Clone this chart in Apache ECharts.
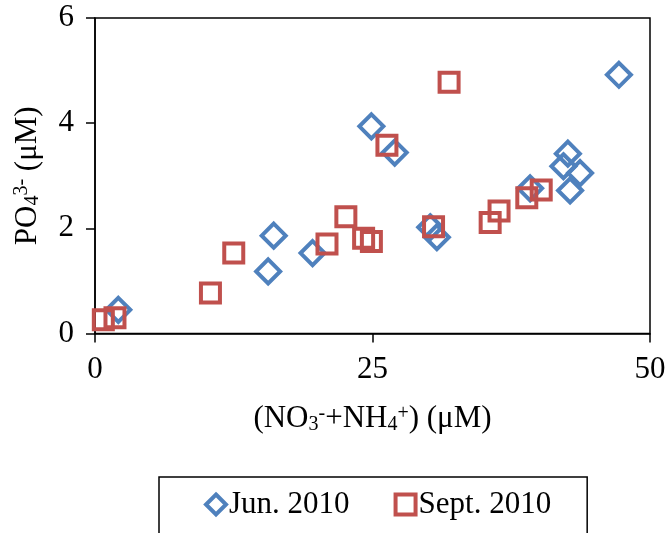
<!DOCTYPE html>
<html><head><meta charset="utf-8">
<script src="https://cdn.jsdelivr.net/npm/echarts@6/dist/echarts.min.js"></script>
<style>html,body{margin:0;padding:0;background:#fff}#c{width:670px;height:533px}</style>
</head><body><div id="c"></div>
<script>
const seriesNames = ['Jun. 2010', 'Sept. 2010'];
const junX = [2.1, 16.1, 15.6, 19.6, 24.9, 27.0, 30.2, 30.8, 39.2, 42.6, 42.2, 43.7, 42.8, 47.2];
const junY = [0.45, 1.86, 1.18, 1.53, 3.94, 3.44, 2.02, 1.83, 2.76, 3.42, 3.18, 3.05, 2.72, 4.92];
const sepX = [0.75, 1.8, 10.4, 12.5, 20.9, 22.6, 24.2, 24.9, 26.3, 31.9, 30.5, 35.6, 36.4, 38.9, 40.2];
const sepY = [0.26, 0.30, 0.77, 1.53, 1.70, 2.22, 1.81, 1.75, 3.58, 4.78, 2.03, 2.11, 2.33, 2.58, 2.73];
const xTicks = [0, 25, 50];
const yTicks = [0, 2, 4, 6];

const FONT = '"Liberation Serif", "Times New Roman", serif';
const BLUE = '#4F81BD', RED = '#C0504D';
const pair = (xs, ys) => xs.map((x, i) => [x, ys[i]]);
const richTitle = {
  t: {fontFamily: FONT, fontSize: 31, color: '#000'},
  sb: {fontFamily: FONT, fontSize: 20, color: '#000', verticalAlign: 'bottom', padding: [10, 0, 0, 0]},
  sp: {fontFamily: FONT, fontSize: 20, color: '#000', verticalAlign: 'top', padding: [0, 0, 10, 0]}
};

const chart = echarts.init(document.getElementById('c'), null, {renderer: 'canvas'});
chart.setOption({
  animation: false,
  backgroundColor: '#fff',
  grid: {left: 95, right: 20, top: 18, bottom: 199.5, show: true, borderColor: '#000', borderWidth: 1.5, backgroundColor: 'transparent'},
  xAxis: {
    type: 'value', min: xTicks[0], max: xTicks[xTicks.length - 1], interval: 25,
    axisLine: {lineStyle: {color: '#000', width: 1.5}},
    axisTick: {show: true, inside: false, length: 9, lineStyle: {color: '#000', width: 1.5}},
    splitLine: {show: false},
    axisLabel: {fontFamily: FONT, fontSize: 31, color: '#000', margin: 21},
    name: '{t|(NO}{sb|3}{sp|-}{t|+NH}{sb|4}{sp|+}{t|) (μM)}',
    nameLocation: 'middle', nameGap: 70,
    nameTextStyle: {rich: richTitle}
  },
  yAxis: {
    type: 'value', min: yTicks[0], max: yTicks[yTicks.length - 1], interval: 2,
    axisLine: {lineStyle: {color: '#000', width: 1.5}},
    axisTick: {show: true, inside: false, length: 9, lineStyle: {color: '#000', width: 1.5}},
    splitLine: {show: false},
    axisLabel: {fontFamily: FONT, fontSize: 31, color: '#000', margin: 21},
    name: '{t|PO}{sb|4}{sp|3-}{t| (μM)}',
    nameLocation: 'middle', nameGap: 52, nameRotate: 90,
    nameTextStyle: {rich: richTitle}
  },
  legend: {
    left: 159, top: 477,
    padding: [12, 36, 40, 45],
    borderColor: '#000', borderWidth: 1.5,
    itemWidth: 20, itemHeight: 20, itemGap: 44,
    textStyle: {fontFamily: FONT, fontSize: 31, color: '#000', padding: [0, 0, 0, -2]},
    data: [
      {name: seriesNames[0], itemStyle: {color: '#fff', borderColor: BLUE, borderWidth: 4}},
      {name: seriesNames[1], itemStyle: {color: '#fff', borderColor: RED, borderWidth: 4}}
    ]
  },
  series: [
    {
      name: seriesNames[0], type: 'scatter', symbol: 'diamond', symbolSize: 24,
      itemStyle: {color: 'rgba(255,255,255,0)', borderColor: BLUE, borderWidth: 4, opacity: 1},
      data: pair(junX, junY), z: 2
    },
    {
      name: seriesNames[1], type: 'scatter', symbol: 'rect', symbolSize: 19,
      itemStyle: {color: 'rgba(255,255,255,0)', borderColor: RED, borderWidth: 4, opacity: 1},
      data: pair(sepX, sepY), z: 3
    }
  ]
});
</script></body></html>
